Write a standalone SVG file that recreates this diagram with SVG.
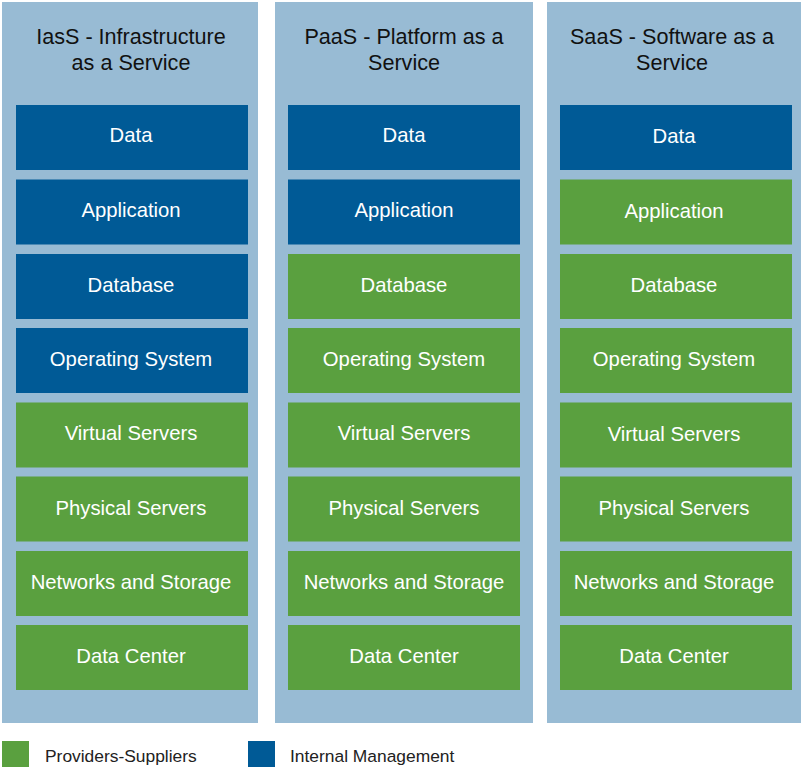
<svg xmlns="http://www.w3.org/2000/svg" width="803" height="767" viewBox="0 0 803 767">
<style>
.col{fill:#98BBD4}
.b{fill:#005A96}
.g{fill:#5AA03F}
.t{font-family:"Liberation Sans",Arial,sans-serif;font-size:21.6px;fill:#111;text-anchor:middle}
.l{font-family:"Liberation Sans",Arial,sans-serif;font-size:20.3px;fill:#fff;text-anchor:middle}
.lg{font-family:"Liberation Sans",Arial,sans-serif;font-size:17.4px;fill:#222}
</style>
<rect width="803" height="767" fill="#fff"/>
<g id="col-iaas">
<rect class="col" x="2" y="2" width="256" height="721"/>
<text class="t" x="131" y="44">IasS - Infrastructure</text>
<text class="t" x="131" y="69.5">as a Service</text>
</g>
<g id="col-paas">
<rect class="col" x="275" y="2" width="258" height="721"/>
<text class="t" x="404" y="44">PaaS - Platform as a</text>
<text class="t" x="404" y="69.5">Service</text>
</g>
<g id="col-saas">
<rect class="col" x="547" y="2" width="254" height="721"/>
<text class="t" x="672" y="44">SaaS - Software as a</text>
<text class="t" x="672" y="69.5">Service</text>
</g>
<g id="iaas-data"><rect class="b" x="16" y="105" width="232" height="65"/><text class="l" x="131" y="142">Data</text></g>
<g id="iaas-app"><rect class="b" x="16" y="179.5" width="232" height="65"/><text class="l" x="131" y="217">Application</text></g>
<g id="iaas-db"><rect class="b" x="16" y="254" width="232" height="65"/><text class="l" x="131" y="291.5">Database</text></g>
<g id="iaas-os"><rect class="b" x="16" y="328" width="232" height="65"/><text class="l" x="131" y="366">Operating System</text></g>
<g id="iaas-vs"><rect class="g" x="16" y="402.5" width="232" height="65"/><text class="l" x="131" y="440">Virtual Servers</text></g>
<g id="iaas-ps"><rect class="g" x="16" y="476.5" width="232" height="65"/><text class="l" x="131" y="514.5">Physical Servers</text></g>
<g id="iaas-ns"><rect class="g" x="16" y="551" width="232" height="65"/><text class="l" x="131" y="589">Networks and Storage</text></g>
<g id="iaas-dc"><rect class="g" x="16" y="625" width="232" height="65"/><text class="l" x="131" y="663">Data Center</text></g>
<g id="paas-data"><rect class="b" x="288" y="105" width="232" height="65"/><text class="l" x="404" y="142">Data</text></g>
<g id="paas-app"><rect class="b" x="288" y="179.5" width="232" height="65"/><text class="l" x="404" y="217">Application</text></g>
<g id="paas-db"><rect class="g" x="288" y="254" width="232" height="65"/><text class="l" x="404" y="291.5">Database</text></g>
<g id="paas-os"><rect class="g" x="288" y="328" width="232" height="65"/><text class="l" x="404" y="366">Operating System</text></g>
<g id="paas-vs"><rect class="g" x="288" y="402.5" width="232" height="65"/><text class="l" x="404" y="440">Virtual Servers</text></g>
<g id="paas-ps"><rect class="g" x="288" y="476.5" width="232" height="65"/><text class="l" x="404" y="514.5">Physical Servers</text></g>
<g id="paas-ns"><rect class="g" x="288" y="551" width="232" height="65"/><text class="l" x="404" y="589">Networks and Storage</text></g>
<g id="paas-dc"><rect class="g" x="288" y="625" width="232" height="65"/><text class="l" x="404" y="663">Data Center</text></g>
<g id="saas-data"><rect class="b" x="560" y="105" width="232" height="65"/><text class="l" x="674" y="142.5">Data</text></g>
<g id="saas-app"><rect class="g" x="560" y="179.5" width="232" height="65"/><text class="l" x="674" y="217.5">Application</text></g>
<g id="saas-db"><rect class="g" x="560" y="254" width="232" height="65"/><text class="l" x="674" y="291.5">Database</text></g>
<g id="saas-os"><rect class="g" x="560" y="328" width="232" height="65"/><text class="l" x="674" y="366">Operating System</text></g>
<g id="saas-vs"><rect class="g" x="560" y="402.5" width="232" height="65"/><text class="l" x="674" y="440.5">Virtual Servers</text></g>
<g id="saas-ps"><rect class="g" x="560" y="476.5" width="232" height="65"/><text class="l" x="674" y="515">Physical Servers</text></g>
<g id="saas-ns"><rect class="g" x="560" y="551" width="232" height="65"/><text class="l" x="674" y="589">Networks and Storage</text></g>
<g id="saas-dc"><rect class="g" x="560" y="625" width="232" height="65"/><text class="l" x="674" y="663">Data Center</text></g>
<g id="legend-providers">
<rect class="g" x="2" y="741" width="27" height="26"/>
<text class="lg" x="45" y="762">Providers-Suppliers</text>
</g>
<g id="legend-internal">
<rect class="b" x="248" y="741" width="27" height="26"/>
<text class="lg" x="290" y="762">Internal Management</text>
</g>
<g id="connectors"></g>
</svg>
